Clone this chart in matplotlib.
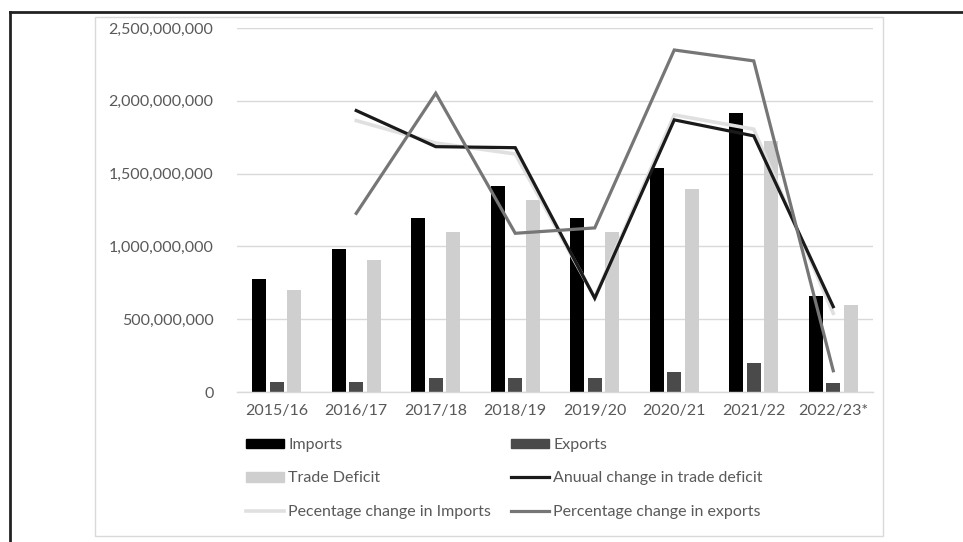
import numpy as np
import matplotlib.pyplot as plt
from matplotlib.lines import Line2D
from matplotlib.patches import Patch, Rectangle
from matplotlib.ticker import FuncFormatter

plt.rcParams['font.family'] = ['Lato', 'DejaVu Sans']

# data
years = ['2015/16', '2016/17', '2017/18', '2018/19', '2019/20', '2020/21', '2021/22', '2022/23*']
imports = [775e6, 982e6, 1195e6, 1417e6, 1195e6, 1541e6, 1919e6, 661e6]
exports = [69e6, 69e6, 96e6, 94e6, 96e6, 137e6, 197e6, 64e6]
trade_deficit = [703e6, 909e6, 1099e6, 1319e6, 1099e6, 1397e6, 1722e6, 596e6]
annual_change = [np.nan, 1933e6, 1685e6, 1678e6, 644e6, 1869e6, 1759e6, 586e6]
pct_imports = [np.nan, 1864e6, 1710e6, 1635e6, 650e6, 1903e6, 1805e6, 541e6]
pct_exports = [np.nan, 1227e6, 2052e6, 1090e6, 1127e6, 2349e6, 2274e6, 146e6]

TEXT = '#595959'
GRID = '#d9d9d9'
FS = 11.5

fig = plt.figure(figsize=(9.63, 5.42), dpi=100)
ax = fig.add_axes([237/963, 1-392/542, 636/963, 364/542])

x = np.arange(len(years))
bw = 0.176
step = 0.22
ax.bar(x - step, imports, bw, color='#000000', zorder=2)
ax.bar(x, exports, bw, color='#4a4a4a', zorder=2)
ax.bar(x + step, trade_deficit, bw, color='#cfcfcf', zorder=2)

ax.plot(x, pct_imports, color='#e0e0e0', lw=2.6, zorder=3, solid_joinstyle='miter')
ax.plot(x, annual_change, color='#1a1a1a', lw=2.3, zorder=4, solid_joinstyle='miter')
ax.plot(x, pct_exports, color='#767676', lw=2.3, zorder=5, solid_joinstyle='miter')

ax.set_xlim(-0.5, len(years) - 0.5)
ax.set_ylim(0, 2.5e9)
ax.set_yticks(np.arange(0, 2.5e9 + 1, 5e8))
ax.yaxis.set_major_formatter(FuncFormatter(lambda v, p: '{:,.0f}'.format(v)))
ax.set_xticks(x)
ax.set_xticklabels(years)
ax.tick_params(length=0, labelsize=FS, colors=TEXT)
ax.tick_params(axis='y', pad=17)
ax.tick_params(axis='x', pad=9)
ax.grid(axis='y', color=GRID, lw=1, zorder=0)
ax.set_axisbelow(True)
for s in ['top', 'right', 'left']:
    ax.spines[s].set_visible(False)
ax.spines['bottom'].set_color(GRID)
ax.spines['bottom'].set_linewidth(1)

handles = [
    Patch(color='#000000', label='Imports'),
    Patch(color='#cfcfcf', label='Trade Deficit'),
    Line2D([], [], color='#e0e0e0', lw=2.6, label='Pecentage change in Imports'),
    Patch(color='#4a4a4a', label='Exports'),
    Line2D([], [], color='#1a1a1a', lw=2.3, label='Anuual change in trade deficit'),
    Line2D([], [], color='#767676', lw=2.3, label='Percentage change in exports'),
]
leg = fig.legend(handles=handles, ncol=2, loc='upper left',
                 bbox_to_anchor=(246/963, 1-438/542), frameon=False,
                 fontsize=FS, handlelength=2.4, handleheight=0.54,
                 handletextpad=0.25, labelspacing=1.22, columnspacing=1.22,
                 borderpad=0, borderaxespad=0)
for t in leg.get_texts():
    t.set_color(TEXT)

# inner chart border and outer frame
fig.add_artist(Rectangle((95/963, 1-536/542), 788/963, 519/542, fill=False,
                         edgecolor=GRID, lw=1, transform=fig.transFigure))
fig.add_artist(Line2D([9.5/963, 9.5/963], [0, 1-12/542], color='#222222', lw=2,
                      transform=fig.transFigure))
fig.add_artist(Line2D([9.5/963, 1], [1-12/542, 1-12/542], color='#222222', lw=2,
                      transform=fig.transFigure))

fig.savefig('out.png', dpi=100)
